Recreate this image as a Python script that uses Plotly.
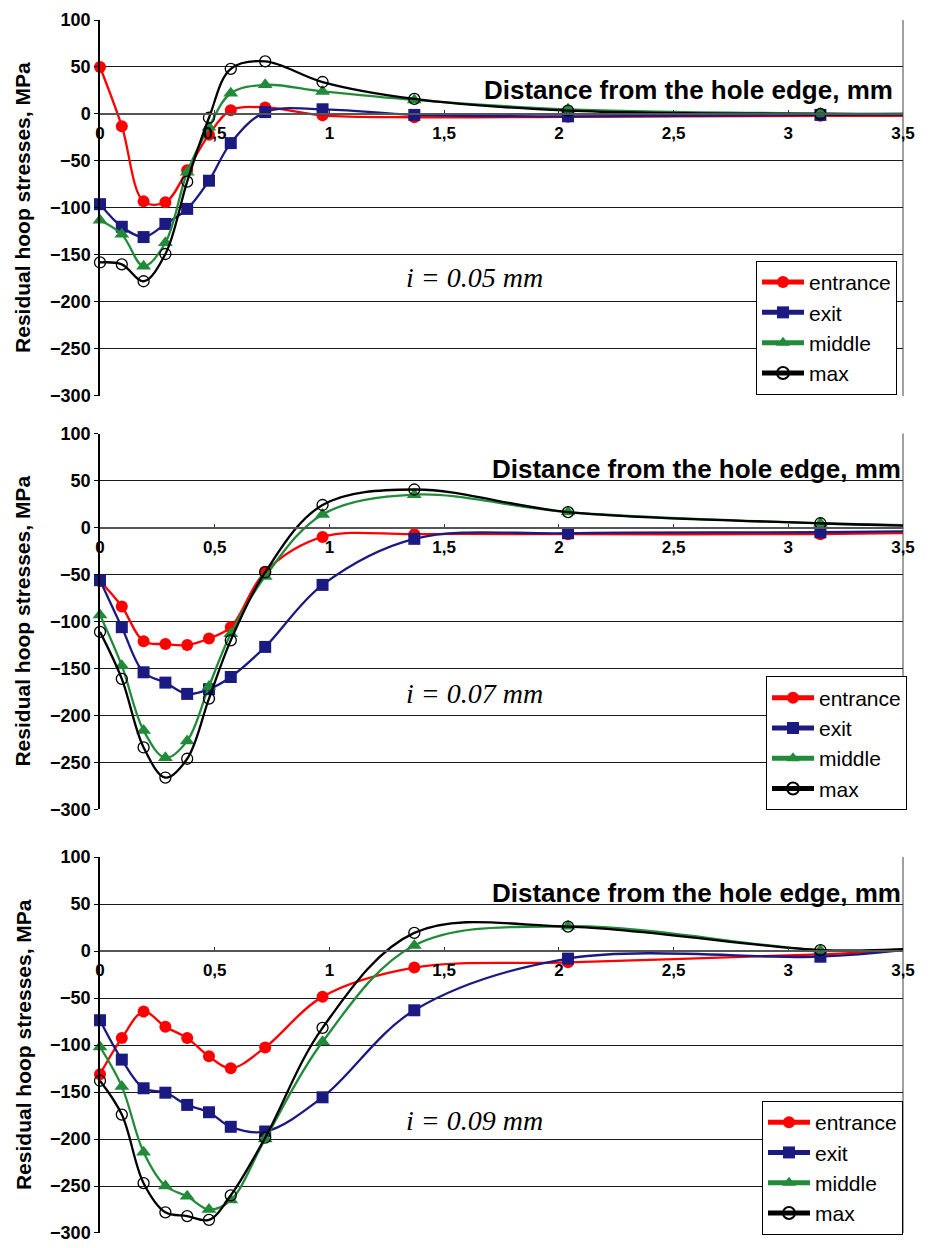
import plotly.graph_objects as go

# ---------------- data ----------------
x_pts = [0, 0.095, 0.19, 0.285, 0.38, 0.475, 0.57, 0.72, 0.97, 1.37, 2.04, 3.14, 3.5]

series_names = ["entrance", "exit", "middle", "max"]

# panel 1: i = 0.05 mm
p1_entrance = [50, -13, -93, -94, -60, -22, 4, 7, -1.5, -3.5, -3, -2, -2]
p1_exit = [-96, -120, -131, -117, -101, -71, -31, 2, 5, -1, -2.5, -1, -1]
p1_middle = [-113, -128, -162, -137, -62, -14, 22, 31, 24, 15, 5, 0.5, 0]
p1_max = [-158, -160, -178, -149, -72, -4, 48, 56, 34, 16, 3.5, 0, 0]

# panel 2: i = 0.07 mm
p2_entrance = [-57, -84, -121, -124, -125, -118, -106, -47, -10, -7, -7, -7, -6]
p2_exit = [-56, -106, -154, -165, -177, -172, -159, -127, -61, -12, -6, -5, -4]
p2_middle = [-93, -147, -216, -245, -227, -169, -113, -52, 14, 35, 16.5, 4.6, 2.5]
p2_max = [-111, -161, -234, -266, -246, -182, -120, -47.5, 24, 40.5, 16.5, 4.6, 2]

# panel 3: i = 0.09 mm
p3_entrance = [-131, -92.6, -64.4, -80.6, -92.6, -112, -124.6, -102.5, -48.6, -17.6, -12, -3.5, 1]
p3_exit = [-73.6, -115.5, -146, -150.7, -163.7, -171.5, -187, -192, -155.6, -63, -8, -6, 1]
p3_middle = [-102, -144, -214, -250, -261, -275, -265, -200, -96.5, 6, 26.4, 1, 2]
p3_max = [-138, -174, -247, -278, -282, -286, -260, -198.6, -81.7, 19.4, 26, 1, 2]

panel_labels = ["i = 0.05 mm", "i = 0.07 mm", "i = 0.09 mm"]

x_tickvals = [0, 0.5, 1, 1.5, 2, 2.5, 3, 3.5]
x_ticktext = ["0", "0,5", "1", "1,5", "2", "2,5", "3", "3,5"]
y_tickvals = [-300, -250, -200, -150, -100, -50, 0, 50, 100]

panels = [
    [p1_entrance, p1_exit, p1_middle, p1_max],
    [p2_entrance, p2_exit, p2_middle, p2_max],
    [p3_entrance, p3_exit, p3_middle, p3_max],
]

# ---------------- styling ----------------
colors = ["#FF0000", "#1A1A80", "#228B3A", "#000000"]
symbols = ["circle", "square", "triangle-up", "circle-open"]
msizes = [12, 12, 13, 11]

W, H = 935, 1248
ML, MR, MT, MB = 100, 32, 20, 5
plot_h = H - MT - MB

def frac(ypx):
    return (H - MB - ypx) / plot_h

domains = [
    [frac(399), frac(20)],
    [frac(816), frac(437)],
    [frac(1243), frac(864)],
]

fig = go.Figure()

font_sans = "Liberation Sans, Arial, sans-serif"

for pi, data in enumerate(panels):
    xa = "x" if pi == 0 else f"x{pi+1}"
    ya = "y" if pi == 0 else f"y{pi+1}"
    lg = "legend" if pi == 0 else f"legend{pi+1}"
    for si, yvals in enumerate(data):
        sizes = [msizes[si]] * (len(x_pts) - 1) + [0]
        mk = dict(symbol=symbols[si], size=sizes, color=colors[si], opacity=1)
        if symbols[si] == "circle-open":
            mk["line"] = dict(width=1.3, color=colors[si])
        else:
            mk["line"] = dict(width=0, color=colors[si])
        fig.add_trace(go.Scatter(
            x=x_pts, y=yvals, name=series_names[si],
            mode="lines+markers",
            line=dict(color=colors[si], width=2.3, shape="spline", smoothing=1.0),
            marker=mk,
            xaxis=xa, yaxis=ya, legend=lg,
            cliponaxis=False,
        ))

layout = dict(
    width=W, height=H,
    margin=dict(l=ML, r=MR, t=MT, b=MB),
    paper_bgcolor="white", plot_bgcolor="white",
    showlegend=True,
    font=dict(family=font_sans, color="black"),
)

annotations = []
shapes = []
for pi in range(3):
    sfx = "" if pi == 0 else str(pi + 1)
    d0, d1 = domains[pi]
    zero_pos = d0 + (d1 - d0) * 0.75
    layout["xaxis" + sfx] = dict(
        domain=[0, 1], range=[0, 3.5], anchor="free", position=zero_pos,
        tickvals=x_tickvals, ticktext=x_ticktext,
        tickfont=dict(family=font_sans, size=17, color="black", weight="bold"),
        ticklabelstandoff=4,
        showline=True, linecolor="#555555", linewidth=1.5,
        ticks="inside", ticklen=3, tickcolor="#333333",
        showgrid=False, zeroline=False,
    )
    layout["yaxis" + sfx] = dict(
        domain=[d0, d1], range=[-300, 100], anchor="x" + sfx,
        tickvals=y_tickvals,
        tickfont=dict(family=font_sans, size=18, color="black", weight="bold"),
        showline=True, linecolor="black", linewidth=1.5,
        ticks="outside", ticklen=4, tickcolor="black",
        showgrid=True, gridcolor="#1a1a1a", gridwidth=1,
        zeroline=False,
    )
    # plot frame (grey right border)
    shapes.append(dict(type="line", xref="x" + sfx + " domain", yref="y" + sfx + " domain",
                       x0=1, x1=1, y0=0, y1=1, line=dict(color="#808080", width=1.5), layer="below"))
    # y title
    annotations.append(dict(
        text="<b>Residual hoop stresses, MPa</b>", textangle=-90,
        xref="paper", yref="paper", x=(23 - ML) / (W - ML - MR), y=(d0 + d1) / 2,
        xanchor="center", yanchor="middle", showarrow=False,
        font=dict(family=font_sans, size=21, color="black"),
    ))
    # x title
    ttl_y = [26, 62, 62][pi]
    ttl_x = [0.99, 1.0, 1.0][pi]
    annotations.append(dict(
        text="<b>Distance from the hole edge, mm</b>",
        xref="x" + sfx + " domain", yref="y" + sfx, x=ttl_x, y=ttl_y,
        xanchor="right", yanchor="middle", showarrow=False,
        font=dict(family=font_sans, size=26, color="black"),
    ))
    # panel label
    lab_y = [-174, -177, -180][pi]
    annotations.append(dict(
        text="<i>" + panel_labels[pi] + "</i>",
        xref="paper", yref="y" + sfx, x=(474 - ML) / (W - ML - MR), y=lab_y,
        xanchor="center", yanchor="middle", showarrow=False,
        font=dict(family="Liberation Serif, Times New Roman, serif", size=28, color="black"),
    ))
    # legend
    lg_right = [897, 907, 903][pi]
    lg_bottom = [398, 817, 1245][pi]
    layout["legend" + sfx] = dict(
        x=(lg_right - ML) / (W - ML - MR), xanchor="right",
        y=frac(lg_bottom), yanchor="bottom",
        bgcolor="white", bordercolor="black", borderwidth=1,
        font=dict(family=font_sans, size=21, color="black"),
        tracegroupgap=0, itemwidth=42, itemsizing="constant",
    )

layout["annotations"] = annotations
layout["shapes"] = shapes
fig.update_layout(**layout)

fig.write_html("out.html")
